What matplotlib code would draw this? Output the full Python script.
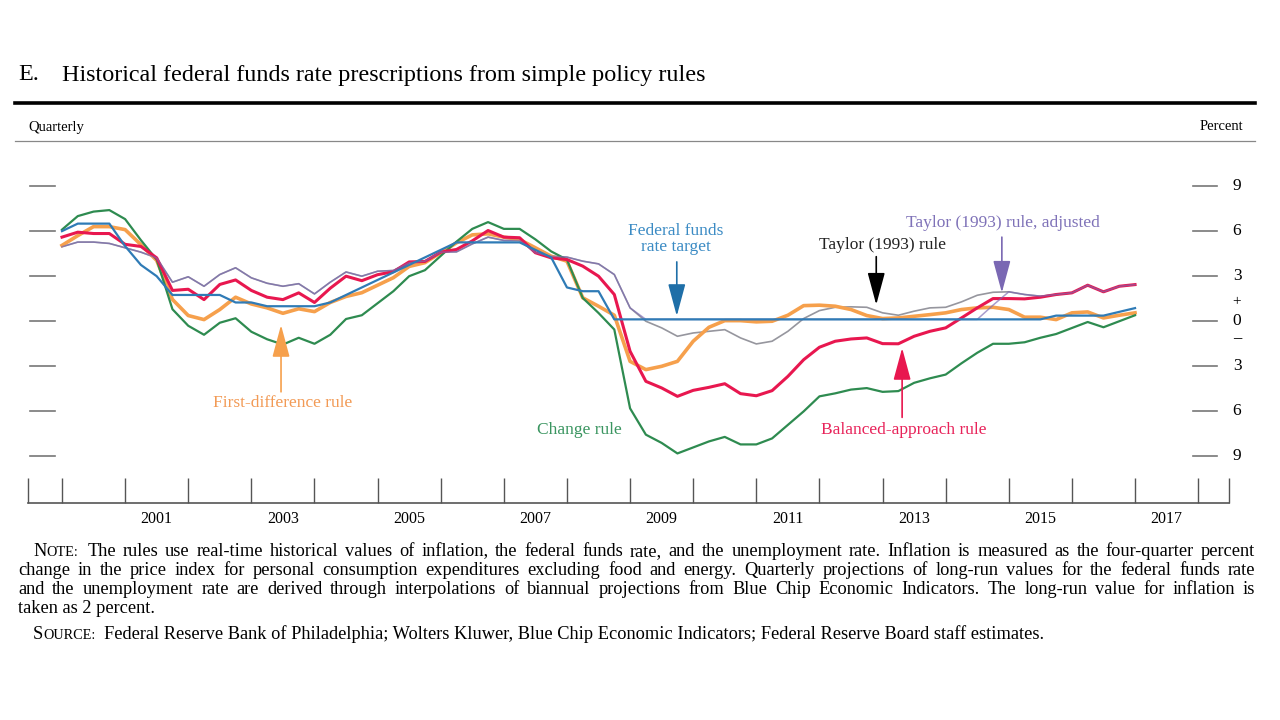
import numpy as np
import matplotlib
matplotlib.use('Agg')
import matplotlib.pyplot as plt
from matplotlib.lines import Line2D

plt.rcParams['font.family'] = ['Liberation Serif', 'DejaVu Serif']

# ====================== DATA (quarterly, 2000:Q1 - 2017:Q1) ======================
dates = 2000 + np.arange(69) / 4

fed_funds = [6.0, 6.5, 6.5, 6.5, 5.0, 3.75, 3.0, 1.75,
             1.75, 1.75, 1.75, 1.25, 1.25, 1.0, 1.0, 1.0,
             1.0, 1.25, 1.75, 2.25, 2.75, 3.25, 3.75, 4.25,
             4.75, 5.25, 5.25, 5.25, 5.25, 5.25, 4.75, 4.25,
             2.25, 2.0, 2.0, 0.125, 0.125, 0.125, 0.125, 0.125,
             0.125, 0.125, 0.125, 0.125, 0.125, 0.125, 0.125, 0.125,
             0.125, 0.125, 0.125, 0.125, 0.125, 0.125, 0.125, 0.125,
             0.125, 0.125, 0.125, 0.125, 0.125, 0.125, 0.125, 0.375,
             0.375, 0.375, 0.375, 0.625, 0.875]

taylor = [4.96, 5.27, 5.27, 5.18, 4.89, 4.6, 4.22, 2.6,
          2.96, 2.33, 3.11, 3.56, 2.89, 2.53, 2.33, 2.5,
          1.82, 2.6, 3.28, 3.0, 3.33, 3.38, 3.9, 4.0,
          4.6, 4.62, 5.15, 5.6, 5.38, 5.38, 4.56, 4.33,
          4.27, 4.0, 3.82, 3.11, 0.89, 0.0, -0.44, -1.0,
          -0.78, -0.67, -0.56, -1.11, -1.51, -1.33, -0.67, 0.18,
          0.71, 0.93, 0.96, 0.93, 0.56, 0.4, 0.67, 0.89,
          0.93, 1.29, 1.73, 1.93, 1.96, 1.78, 1.67, 1.78,
          1.89, 2.4, 1.96, 2.33, 2.44]

taylor_adj = [4.96, 5.27, 5.27, 5.18, 4.89, 4.6, 4.22, 2.6,
              2.96, 2.33, 3.11, 3.56, 2.89, 2.53, 2.33, 2.5,
              1.82, 2.6, 3.28, 3.0, 3.33, 3.38, 3.9, 4.0,
              4.6, 4.62, 5.15, 5.6, 5.38, 5.38, 4.56, 4.33,
              4.27, 4.0, 3.82, 3.11, 0.89, 0.125, 0.125, 0.125,
              0.125, 0.125, 0.125, 0.125, 0.125, 0.125, 0.125, 0.125,
              0.125, 0.125, 0.125, 0.125, 0.125, 0.125, 0.125, 0.125,
              0.125, 0.125, 0.125, 1.07, 1.96, 1.78, 1.67, 1.78,
              1.89, 2.4, 1.96, 2.33, 2.44]

balanced = [5.6, 5.93, 5.84, 5.84, 5.12, 4.98, 4.22, 2.05,
            2.13, 1.44, 2.45, 2.75, 2.05, 1.6, 1.44, 1.89,
            1.25, 2.2, 3.0, 2.7, 3.1, 3.3, 3.95, 3.98,
            4.6, 4.78, 5.35, 6.04, 5.6, 5.56, 4.56, 4.22,
            4.11, 3.67, 3.0, 1.78, -2.0, -4.0, -4.44, -5.0,
            -4.6, -4.4, -4.16, -4.82, -4.96, -4.62, -3.67, -2.56,
            -1.73, -1.33, -1.18, -1.11, -1.49, -1.5, -1.0, -0.67,
            -0.44, 0.22, 0.89, 1.51, 1.51, 1.49, 1.6, 1.78,
            1.89, 2.4, 1.96, 2.33, 2.44]

first_diff = [5.05, 5.7, 6.3, 6.3, 6.1, 5.1, 4.05, 1.45,
              0.38, 0.11, 0.78, 1.6, 1.15, 0.89, 0.53, 0.83,
              0.64, 1.25, 1.65, 1.9, 2.4, 2.9, 3.65, 3.9,
              4.56, 5.22, 5.75, 5.82, 5.6, 5.44, 4.89, 4.33,
              4.0, 1.56, 1.0, 0.4, -2.67, -3.22, -3.0, -2.67,
              -1.33, -0.4, 0.04, 0.04, -0.04, 0.0, 0.4, 1.04,
              1.07, 1.0, 0.78, 0.38, 0.18, 0.22, 0.33, 0.44,
              0.56, 0.78, 0.89, 0.93, 0.78, 0.27, 0.27, 0.11,
              0.56, 0.62, 0.22, 0.4, 0.56]

change = [6.1, 7.0, 7.3, 7.4, 6.8, 5.4, 4.1, 0.8,
          -0.3, -0.9, -0.1, 0.2, -0.7, -1.2, -1.55, -1.1,
          -1.5, -0.9, 0.15, 0.4, 1.2, 2.0, 3.0, 3.4,
          4.35, 5.3, 6.15, 6.6, 6.15, 6.15, 5.45, 4.65,
          4.1, 1.55, 0.55, -0.55, -5.8, -7.55, -8.1, -8.8,
          -8.4, -8.0, -7.7, -8.2, -8.2, -7.8, -6.9, -6.0,
          -5.0, -4.8, -4.55, -4.45, -4.7, -4.65, -4.1, -3.8,
          -3.55, -2.8, -2.1, -1.5, -1.5, -1.4, -1.1, -0.85,
          -0.45, -0.05, -0.4, 0.0, 0.4]

level_ticks = [9, 6, 3, 0, -3, -6, -9]
label_years = list(range(2001, 2018, 2))

BLUE = '#2f7bb6'
GRAY = '#96969e'
PURPLE = '#7a68b3'
RED = '#e8174f'
GREEN = '#2e8b50'
ORANGE = '#f6a04c'

# ====================== FIGURE ======================
W, H = 1280, 720
fig = plt.figure(figsize=(12.8, 7.2), dpi=100)


def fx(px):
    return px / W


def fy(py):
    return 1 - py / H


ax = fig.add_axes([fx(28), fy(503), (1229 - 28) / W, (503 - 141) / H])
x0, x1 = 2000 - 34 / 63.12, 2000 + 1167 / 63.12
ax.set_xlim(x0, x1)
ax.set_ylim(-12.1, 12.0)

ax.plot(dates, taylor, color=GRAY, lw=1.2, zorder=1)
ax.plot(dates, first_diff, color=ORANGE, lw=2.6, zorder=2)
ax.plot(dates, change, color=GREEN, lw=1.6, zorder=3)
ax.plot(dates, balanced, color=RED, lw=2.2, zorder=4)
ax.plot(dates, taylor_adj, color=PURPLE, lw=1.1, alpha=0.65, zorder=5)
ax.plot(dates, fed_funds, color=BLUE, lw=1.6, zorder=6)

for s in ['top', 'left', 'right']:
    ax.spines[s].set_visible(False)
ax.spines['bottom'].set_color('#555555')
ax.spines['bottom'].set_linewidth(1.2)
ax.set_yticks([])
ax.set_xticks([x0] + list(range(2000, 2019)) + [x1])
ax.set_xticklabels([])
ax.set_xticks(np.array(label_years) + 0.5, minor=True)
ax.set_xticklabels([str(y) for y in label_years], minor=True)
ax.tick_params(axis='x', which='major', direction='in', length=18, width=1, color='#555555')
ax.tick_params(axis='x', which='minor', length=0, pad=6, labelsize=11.5)

# level dashes left and right, labels on the right
trans = ax.get_yaxis_transform()
for v in level_ticks:
    ax.plot([2 / 1201, 27 / 1201], [v, v], transform=trans, color='#777777', lw=1.2,
            clip_on=False)
    ax.plot([1165 / 1201, 1189 / 1201], [v, v], transform=trans, color='#777777', lw=1.2,
            clip_on=False)
    ax.text(1209 / 1201, v, str(abs(v)), transform=trans, ha='center', va='center',
            fontsize=12.5, clip_on=False)
ax.text(1209 / 1201, 1.3, '+', transform=trans, ha='center', va='center', fontsize=11)
ax.text(1209 / 1201, -1.1, '\u2013', transform=trans, ha='center', va='center',
        fontsize=12, fontweight='bold')


# annotations
def arrow(x, tail, tip, color):
    ax.annotate('', xy=(x, tip), xytext=(x, tail),
                arrowprops=dict(arrowstyle='-|>,head_length=1.0,head_width=0.27',
                                mutation_scale=20, color=color, lw=1.2,
                                shrinkA=0, shrinkB=0), zorder=8)


arrow(2009.74, 3.95, 0.35, '#1f6fa8')
arrow(2012.9, 4.3, 1.1, 'black')
arrow(2014.89, 5.6, 1.9, PURPLE)
arrow(2003.47, -4.7, -0.25, ORANGE)
arrow(2013.31, -6.4, -1.78, RED)

lab = dict(ha='center', va='center', fontsize=12.5)
ax.text(2009.73, 5.47, 'Federal funds\nrate target', color='#3b8bc4', linespacing=0.95, **lab)
ax.text(2013.0, 5.08, 'Taylor (1993) rule', color='#222222', **lab)
ax.text(2014.91, 6.55, 'Taylor (1993) rule, adjusted', color='#7f72b8', **lab)
ax.text(2003.5, -5.44, 'First-difference rule', color='#f29a55', **lab)
ax.text(2008.2, -7.24, 'Change rule', color='#3a9560', **lab)
ax.text(2013.34, -7.24, 'Balanced-approach rule', color='#e8235a', **lab)

# header
fig.text(fx(18), fy(75), 'E.', fontsize=17.4, va='center')
fig.text(fx(62), fy(75), 'Historical federal funds rate prescriptions from simple policy rules',
         fontsize=17.4, va='center')
fig.add_artist(Line2D([fx(15), fx(1255)], [fy(103), fy(103)], lw=2.6, color='black'))
fig.add_artist(Line2D([fx(15), fx(1255)], [fy(141), fy(141)], lw=0.9, color='#888888'))
fig.text(fx(28), fy(127), 'Quarterly', fontsize=10.5, va='center')
fig.text(fx(1243), fy(127), 'Percent', fontsize=10.5, va='center', ha='right')

# footnote (justified lines, small-caps labels)
renderer = fig.canvas.get_renderer()
FS = 13.2
note_lines = [
    'The rules use real-time historical values of inflation, the federal funds rate, and the '
    'unemployment rate. Inflation is measured as the four-quarter percent',
    'change in the price index for personal consumption expenditures excluding food and energy. '
    'Quarterly projections of long-run values for the federal funds rate',
    'and the unemployment rate are derived through interpolations of biannual projections from '
    'Blue Chip Economic Indicators. The long-run value for inflation is',
    'taken as 2 percent.',
]
source_line = ('Federal Reserve Bank of Philadelphia; Wolters Kluwer, Blue Chip Economic '
               'Indicators; Federal Reserve Board staff estimates.')


def run_text(x_px, y_px, pieces):
    x = x_px
    for s, size in pieces:
        t = fig.text(fx(x), fy(y_px), s, fontsize=size, va='baseline')
        x += t.get_window_extent(renderer).width
    return x


def justify(x_start, x_end, y_px, text):
    words = text.split(' ')
    objs = [fig.text(0, fy(y_px), w, fontsize=FS, va='baseline') for w in words]
    widths = [o.get_window_extent(renderer).width for o in objs]
    gap = (x_end - x_start - sum(widths)) / (len(words) - 1)
    x = x_start
    for o, w in zip(objs, widths):
        o.set_x(fx(x))
        x += w + gap


xe = run_text(33, 556, [('N', FS), ('OTE:', FS * 0.78)])
justify(xe + 9, 1255, 556, note_lines[0])
justify(18, 1255, 575, note_lines[1])
justify(18, 1255, 594, note_lines[2])
fig.text(fx(18), fy(613), note_lines[3], fontsize=FS, va='baseline')
xe = run_text(33, 639, [('S', FS), ('OURCE:', FS * 0.78)])
fig.text(fx(xe + 9), fy(639), source_line, fontsize=FS, va='baseline')

fig.savefig('out.png', dpi=100)
